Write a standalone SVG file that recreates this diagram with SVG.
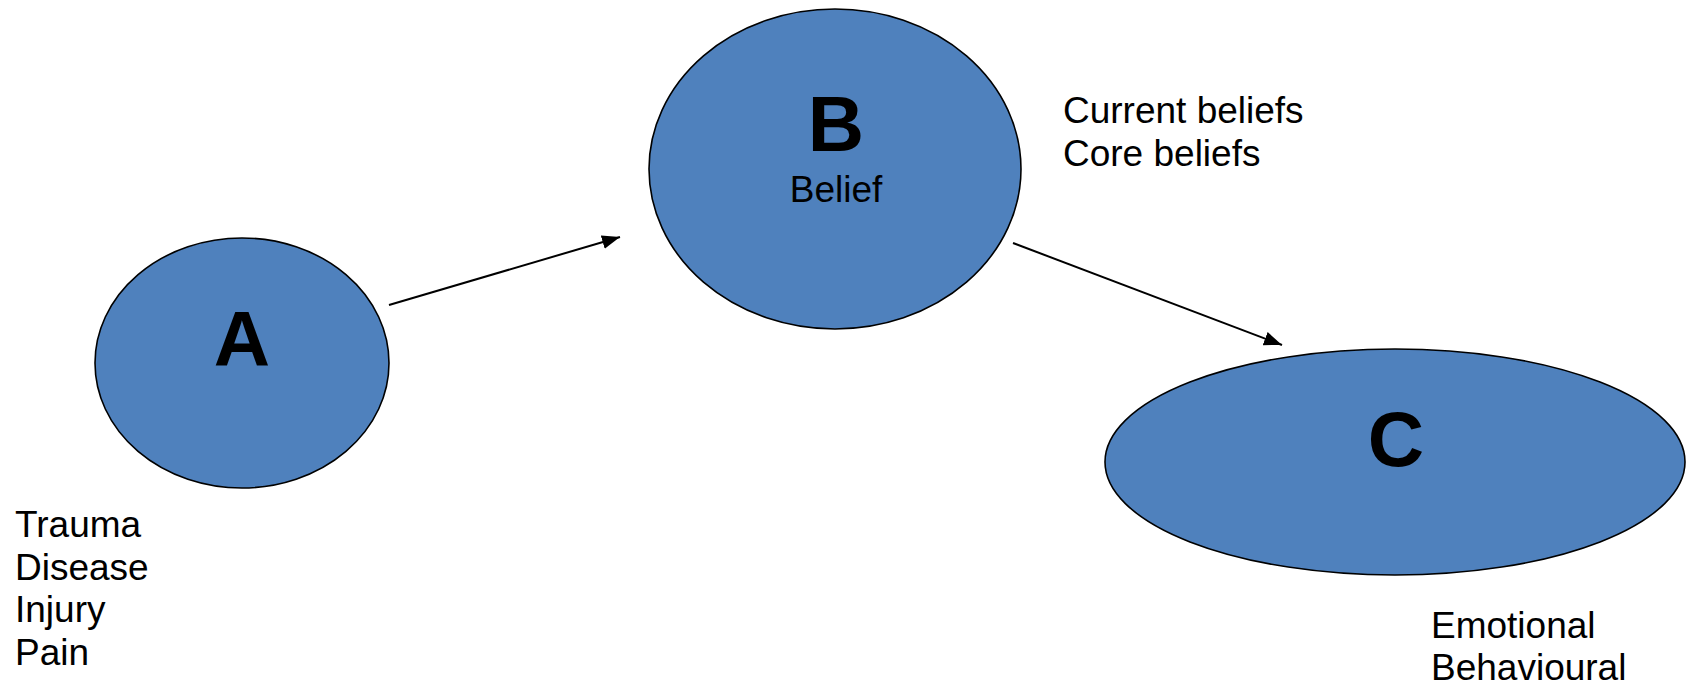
<svg xmlns="http://www.w3.org/2000/svg" width="1686" height="686" viewBox="0 0 1686 686">
<style>
.node{fill:#4F81BD;stroke:#000;stroke-width:1.6}
.big{font-family:"Liberation Sans",Arial,sans-serif;font-weight:bold;font-size:78px;fill:#000;text-anchor:middle}
.lbl{font-family:"Liberation Sans",Arial,sans-serif;font-size:37px;fill:#000}
.edge{stroke:#000;stroke-width:2;fill:none}
</style>
<defs>
<marker id="arr" markerUnits="userSpaceOnUse" markerWidth="20" markerHeight="16" refX="18" refY="7" orient="auto">
<path d="M0,0 L18,7 L0,14 Z" fill="#000"/>
</marker>
</defs>
<g id="connectors">
<line class="edge" x1="389" y1="305" x2="620" y2="237" marker-end="url(#arr)"/>
<line class="edge" x1="1013" y1="243" x2="1282" y2="345" marker-end="url(#arr)"/>
</g>
<g id="nodeA">
<ellipse class="node" cx="242" cy="363" rx="147" ry="125"/>
<text class="big" x="242" y="366">A</text>
</g>
<g id="nodeB">
<ellipse class="node" cx="835" cy="169" rx="186" ry="160"/>
<text class="big" x="836" y="151">B</text>
<text class="lbl" x="836" y="202" text-anchor="middle">Belief</text>
</g>
<g id="nodeC">
<ellipse class="node" cx="1395" cy="462" rx="290" ry="113"/>
<text class="big" x="1396" y="466">C</text>
</g>
<g id="labelA">
<text class="lbl" x="15" y="537">Trauma</text>
<text class="lbl" x="15" y="580">Disease</text>
<text class="lbl" x="15" y="622">Injury</text>
<text class="lbl" x="15" y="665">Pain</text>
</g>
<g id="labelB">
<text class="lbl" x="1063" y="123">Current beliefs</text>
<text class="lbl" x="1063" y="166">Core beliefs</text>
</g>
<g id="labelC">
<text class="lbl" x="1431" y="638">Emotional</text>
<text class="lbl" x="1431" y="680">Behavioural</text>
</g>
</svg>
